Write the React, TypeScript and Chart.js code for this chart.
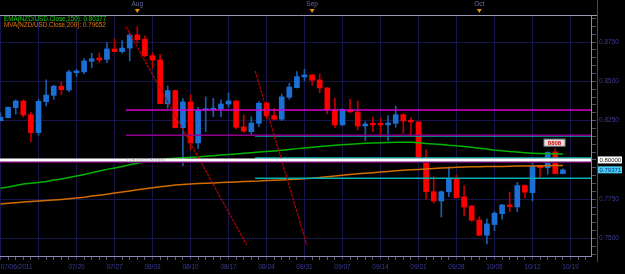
import React, { useEffect, useRef } from 'react';
import { Chart, registerables } from 'chart.js';

Chart.register(...registerables);

// ---- data (NZD/USD daily, 07/06/2011 .. 10/18/2011) ----
const opens = [0.8250,0.8269,0.8333,0.8375,0.8288,0.8174,0.8371,0.8411,0.8469,0.8445,0.8555,0.8560,0.8628,0.8649,0.8640,0.8706,0.8689,0.8712,0.8795,0.8768,0.8663,0.8636,0.8358,0.8441,0.8205,0.8369,0.8108,0.8316,0.8318,0.8324,0.8356,0.8375,0.8210,0.8180,0.8233,0.8361,0.8282,0.8259,0.8399,0.8460,0.8528,0.8541,0.8509,0.8458,0.8318,0.8223,0.8318,0.8305,0.8216,0.8229,0.8229,0.8223,0.8233,0.8288,0.8250,0.8242,0.8011,0.7798,0.7739,0.7797,0.7879,0.7765,0.7707,0.7618,0.7521,0.7589,0.7658,0.7714,0.7701,0.7837,0.7792,0.7964,0.7951,0.8051,0.7913];
const highs = [0.8299,0.8337,0.8382,0.8382,0.8305,0.8386,0.8509,0.8475,0.8496,0.8572,0.8577,0.8644,0.8679,0.8681,0.8746,0.8770,0.8759,0.8806,0.8848,0.8789,0.8682,0.8672,0.8471,0.8445,0.8390,0.8415,0.8335,0.8401,0.8392,0.8382,0.8426,0.8378,0.8286,0.8275,0.8371,0.8367,0.8329,0.8420,0.8488,0.8562,0.8577,0.8544,0.8547,0.8461,0.8392,0.8326,0.8386,0.8375,0.8244,0.8275,0.8265,0.8282,0.8343,0.8293,0.8269,0.8245,0.8064,0.7894,0.7803,0.7957,0.7905,0.7837,0.7711,0.7639,0.7625,0.7671,0.7717,0.7796,0.7858,0.7841,0.7989,0.7968,0.8051,0.8070,0.7943];
const lows = [0.8248,0.8267,0.8291,0.8273,0.8114,0.8157,0.8343,0.8386,0.8415,0.8434,0.8530,0.8547,0.8587,0.8619,0.8619,0.8687,0.8681,0.8630,0.8742,0.8657,0.8583,0.8356,0.8329,0.8204,0.7964,0.8064,0.8072,0.8180,0.8275,0.8275,0.8335,0.8197,0.8174,0.8159,0.8212,0.8261,0.8254,0.8250,0.8386,0.8458,0.8504,0.8475,0.8428,0.8293,0.8205,0.8219,0.8302,0.8191,0.8123,0.8180,0.8148,0.8123,0.8208,0.8170,0.8163,0.8010,0.7750,0.7725,0.7636,0.7767,0.7758,0.7646,0.7608,0.7519,0.7466,0.7550,0.7623,0.7671,0.7671,0.7760,0.7739,0.7890,0.7909,0.7911,0.7911];
const closes = [0.8272,0.8335,0.8375,0.8286,0.8174,0.8373,0.8413,0.8469,0.8447,0.8560,0.8566,0.8630,0.8644,0.8636,0.8706,0.8689,0.8712,0.8795,0.8765,0.8663,0.8636,0.8358,0.8441,0.8205,0.8369,0.8108,0.8316,0.8326,0.8329,0.8356,0.8375,0.8208,0.8183,0.8235,0.8361,0.8280,0.8259,0.8401,0.8464,0.8530,0.8541,0.8507,0.8458,0.8318,0.8223,0.8322,0.8305,0.8216,0.8229,0.8223,0.8223,0.8235,0.8288,0.8248,0.8242,0.8011,0.7798,0.7739,0.7798,0.7879,0.7760,0.7701,0.7617,0.7521,0.7593,0.7661,0.7714,0.7703,0.7837,0.7795,0.7957,0.7951,0.8049,0.7913,0.7937];
const ema150 = [0.7820,0.7828,0.7838,0.7847,0.7852,0.7857,0.7863,0.7872,0.7879,0.7889,0.7898,0.7908,0.7919,0.7930,0.7940,0.7949,0.7959,0.7969,0.7979,0.7987,0.7994,0.8000,0.8008,0.8011,0.8014,0.8017,0.8019,0.8023,0.8027,0.8031,0.8034,0.8038,0.8042,0.8046,0.8050,0.8053,0.8057,0.8062,0.8067,0.8072,0.8076,0.8081,0.8085,0.8089,0.8093,0.8097,0.8100,0.8103,0.8106,0.8107,0.8109,0.8111,0.8112,0.8113,0.8112,0.8109,0.8105,0.8102,0.8098,0.8093,0.8090,0.8086,0.8080,0.8075,0.8069,0.8062,0.8059,0.8054,0.8050,0.8046,0.8043,0.8041,0.8040,0.8039,0.8038];
const mva200 = [0.7720,0.7724,0.7728,0.7732,0.7735,0.7739,0.7742,0.7745,0.7749,0.7753,0.7758,0.7763,0.7770,0.7776,0.7782,0.7789,0.7796,0.7803,0.7810,0.7817,0.7823,0.7829,0.7835,0.7840,0.7844,0.7847,0.7850,0.7852,0.7854,0.7856,0.7858,0.7860,0.7863,0.7865,0.7866,0.7869,0.7871,0.7873,0.7875,0.7877,0.7880,0.7884,0.7889,0.7893,0.7898,0.7902,0.7907,0.7912,0.7915,0.7919,0.7923,0.7927,0.7931,0.7934,0.7937,0.7940,0.7943,0.7945,0.7948,0.7950,0.7953,0.7955,0.7956,0.7957,0.7958,0.7959,0.7959,0.7960,0.7961,0.7961,0.7962,0.7962,0.7963,0.7964,0.7965];

const weekLabels = ['07/06/2011','','07/20','07/27','08/03','08/10','08/17','08/24','08/31','09/07','09/14','09/21','09/28','10/05','10/12','10/19'];
const monthLabels = ['Aug','Sep','Oct'];
const monthStarts = [18, 41, 63];

const emaLast = '0.80377';
const mvaLast = '0.79652';
const lastPrice = 0.79371;
const roundLevel = 0.8;
const underRoundLevel = 0.7987;
const magentaLevel = 0.8318;
const purpleLevel = 0.8157;
const tealLevels = [0.8153, 0.8013, 0.7884];
const levelStart = 16.5;
const tealStart = 33.5;
const trendA = [[16.5, 0.8848], [32.4, 0.7459]];
const trendB = [[33.5, 0.8566], [40.3, 0.7459]];
const tagText = '8808';
const tagX = 72.9;
const tagY = 0.8110;

const X_MIN = -0.07, X_MAX = 77.7, Y_MIN = 0.7389, Y_MAX = 0.8922;

const UP = '#1c6fd4', DOWN = '#ff0000', UP_WICK = '#1a5cab', DOWN_WICK = '#c00000';
const FONT = '"Liberation Sans", Arial, sans-serif';
const GRID = '#16164c';

const hline = (v: number, from: number) => [{ x: from, y: v }, { x: X_MAX + 1, y: v }];

const decor = {
  id: 'decor',
  beforeDraw(chart: any) {
    const { ctx, width, height } = chart;
    ctx.save();
    ctx.fillStyle = '#000';
    ctx.fillRect(0, 0, width, height);
    ctx.restore();
  },
  afterDraw(chart: any) {
    const { ctx, chartArea, scales } = chart;
    const x = scales.x, y = scales.y;
    ctx.save();
    // frame
    ctx.strokeStyle = '#9a9ab0';
    ctx.lineWidth = 1;
    ctx.beginPath();
    ctx.moveTo(0, chartArea.top + 0.5);
    ctx.lineTo(chartArea.right + 6, chartArea.top + 0.5);
    ctx.stroke();
    ctx.strokeStyle = '#44445a';
    ctx.beginPath();
    ctx.moveTo(chartArea.right + 6.5, 0);
    ctx.lineTo(chartArea.right + 6.5, chartArea.bottom + 6);
    ctx.stroke();
    // month header
    ctx.font = '6.5px ' + FONT;
    ctx.textAlign = 'center';
    ctx.textBaseline = 'middle';
    monthLabels.forEach((m, i) => {
      const px = x.getPixelForValue(monthStarts[i]);
      ctx.fillStyle = '#6a6a9c';
      ctx.fillText(m, px, 4.5);
      ctx.fillStyle = '#f08c00';
      ctx.beginPath();
      ctx.moveTo(px - 2.5, 9);
      ctx.lineTo(px + 2.5, 9);
      ctx.lineTo(px, 13);
      ctx.closePath();
      ctx.fill();
    });
    // legend
    ctx.textAlign = 'left';
    ctx.font = '6.3px ' + FONT;
    ctx.fillStyle = '#10d010';
    ctx.fillText('EMA(NZD/USD.Close,150): ' + emaLast, 4, chartArea.top + 4);
    ctx.fillStyle = '#e07810';
    ctx.fillText('MVA(NZD/USD.Close,200): ' + mvaLast, 4, chartArea.top + 10.5);
    // text on round level
    ctx.font = '5.5px ' + FONT;
    ctx.fillStyle = '#a8a8a8';
    ctx.fillText('0.8000 0.80000', x.getPixelForValue(16.6), y.getPixelForValue(roundLevel) + 0.5);
    // order tag
    const tx = x.getPixelForValue(tagX), ty = y.getPixelForValue(tagY);
    ctx.fillStyle = '#e4e4e4';
    ctx.fillRect(tx - 10.5, ty - 3.5, 21, 7);
    ctx.strokeStyle = '#8a8a8a';
    ctx.strokeRect(tx - 10.5, ty - 3.5, 21, 7);
    ctx.fillStyle = '#e00000';
    ctx.font = 'bold 6px ' + FONT;
    ctx.textAlign = 'center';
    ctx.fillText(tagText, tx, ty + 0.5);
    // price boxes on axis
    const bx = chartArea.right + 7;
    const drawBox = (v: number, txt: string, bg: string, fg: string) => {
      const py = y.getPixelForValue(v);
      ctx.fillStyle = bg;
      ctx.fillRect(bx, py - 3.5, 24, 7);
      ctx.fillStyle = fg;
      ctx.font = '6px ' + FONT;
      ctx.textAlign = 'left';
      ctx.fillText(txt, bx + 1.5, py + 0.5);
    };
    drawBox(roundLevel, roundLevel.toFixed(5), '#ffffff', '#202020');
    drawBox(lastPrice, lastPrice.toFixed(5), '#48cdf0', '#0a2a80');
    ctx.restore();
  },
};

export default function App() {
  const ref = useRef<HTMLCanvasElement | null>(null);
  useEffect(() => {
    if (!ref.current) return;
    Chart.defaults.font.family = FONT;
    const n = opens.length;
    const idx = Array.from({ length: n }, (_, i) => i);
    const isUp = (i: number) => closes[i] >= opens[i];
    const lineDs = (label: string, data: any[], color: string, width: number, order: number, dash: number[] = []) => ({
      type: 'line' as const,
      label,
      data,
      borderColor: color,
      borderWidth: width,
      borderDash: dash,
      pointRadius: 0,
      fill: false,
      tension: 0,
      order,
    });
    const chart = new Chart(ref.current, {
      type: 'bar',
      data: {
        datasets: [
          {
            type: 'bar',
            label: 'wicks',
            data: idx.map((i) => ({ x: i, y: [lows[i], highs[i]] })),
            backgroundColor: idx.map((i) => (isUp(i) ? UP_WICK : DOWN_WICK)),
            barThickness: 1,
            grouped: false,
            order: 4,
          } as any,
          {
            type: 'bar',
            label: 'bodies',
            data: idx.map((i) => ({ x: i, y: [opens[i], closes[i]] })),
            backgroundColor: idx.map((i) => (isUp(i) ? UP : DOWN)),
            barThickness: 5,
            minBarLength: 1.5,
            grouped: false,
            order: 3,
          } as any,
          lineDs('EMA150', idx.map((i) => ({ x: i, y: ema150[i] })), '#00b400', 1.5, 2),
          lineDs('MVA200', idx.map((i) => ({ x: i, y: mva200[i] })), '#d06c00', 1.5, 2),
          lineDs('magenta', hline(magentaLevel, levelStart), '#d000d0', 1.5, 1),
          lineDs('purple', hline(purpleLevel, levelStart), '#900090', 1.5, 1),
          lineDs('teal1', hline(tealLevels[0], tealStart), '#00a8a8', 1.5, 1),
          lineDs('teal2', hline(tealLevels[1], tealStart), '#00b0b0', 1.5, 1),
          lineDs('teal3', hline(tealLevels[2], tealStart), '#00b0b0', 1.5, 1),
          lineDs('under', hline(underRoundLevel, X_MIN - 1), '#6a006a', 2, 1),
          lineDs('round', hline(roundLevel, X_MIN - 1), '#ffffff', 3, 0),
          lineDs('trendA', trendA.map((p) => ({ x: p[0], y: p[1] })), '#b00000', 1.3, 0, [3, 1]),
          lineDs('trendB', trendB.map((p) => ({ x: p[0], y: p[1] })), '#b00000', 1.3, 0, [3, 1]),
        ],
      },
      options: {
        responsive: false,
        animation: false,
        devicePixelRatio: 1,
        layout: { padding: { top: 15, left: 0, right: 0, bottom: 0 } },
        plugins: { legend: { display: false }, tooltip: { enabled: false } },
        scales: {
          x: {
            type: 'linear',
            min: X_MIN,
            max: X_MAX,
            offset: false,
            afterBuildTicks: (s: any) => {
              s.ticks = Array.from({ length: 78 }, (_, i) => ({ value: i }));
            },
            afterFit: (s: any) => {
              s.height = 18;
              s.paddingLeft = 0;
              s.paddingRight = 0;
            },
            grid: {
              offset: false,
              color: (c: any) => (c.tick && c.tick.value % 5 === 0 ? GRID : 'rgba(0,0,0,0)'),
              tickColor: (c: any) => (c.tick && c.tick.value % 5 === 0 ? '#3a3a6a' : '#5c5c6c'),
              tickLength: 4,
            },
            border: { color: '#8a8ab4' },
            ticks: {
              autoSkip: false,
              maxRotation: 0,
              align: 'inner',
              padding: 3,
              color: '#3c3c96',
              font: { size: 6.5, family: FONT },
              callback: (v: any) => (v % 5 === 0 ? weekLabels[v / 5] ?? '' : ''),
            },
          },
          y: {
            type: 'linear',
            position: 'right',
            min: Y_MIN,
            max: Y_MAX,
            afterBuildTicks: (s: any) => {
              const t = [];
              for (let k = 148; k <= 178; k++) t.push({ value: k * 0.005 });
              s.ticks = t;
            },
            afterFit: (s: any) => {
              s.width = 34;
              s.paddingTop = 0;
              s.paddingBottom = 0;
            },
            grid: {
              color: (c: any) => (c.tick && Math.round(c.tick.value / 0.005) % 5 === 0 ? GRID : 'rgba(0,0,0,0)'),
              tickColor: '#50506a',
              tickLength: 5,
            },
            border: { color: '#8a8ab4' },
            ticks: {
              autoSkip: false,
              padding: 3,
              color: '#3c3c96',
              font: { size: 6.5, family: FONT },
              callback: (v: any) => (Math.round(v / 0.005) % 5 === 0 ? Number(v).toFixed(4) : ''),
            },
          },
        },
      } as any,
      plugins: [decor],
    });
    return () => chart.destroy();
  }, []);
  return (
    <div style={{ position: 'fixed', left: 0, top: 0, width: 625, height: 274, background: '#000' }}>
      <canvas ref={ref} width={625} height={274} style={{ display: 'block' }} />
    </div>
  );
}
